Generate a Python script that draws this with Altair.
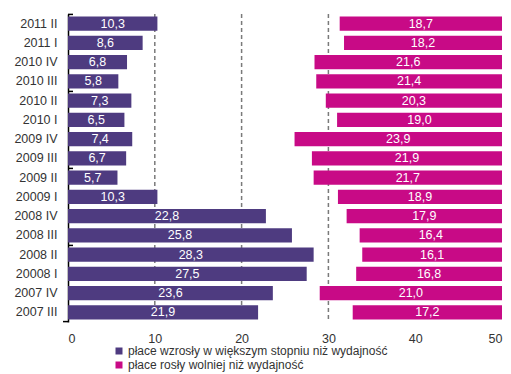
import altair as alt
import pandas as pd

periods = ["2011 II", "2011 I", "2010 IV", "2010 III", "2010 II", "2010 I",
           "2009 IV", "2009 III", "2009 II", "20009 I", "2008 IV", "2008 III",
           "2008 II", "20008 I", "2007 IV", "2007 III"]
greater = [10.3, 8.6, 6.8, 5.8, 7.3, 6.5, 7.4, 6.7, 5.7, 10.3, 22.8, 25.8,
           28.3, 27.5, 23.6, 21.9]
slower = [18.7, 18.2, 21.6, 21.4, 20.3, 19.0, 23.9, 21.9, 21.7, 18.9, 17.9,
          16.4, 16.1, 16.8, 21.0, 17.2]
series_names = ["płace wzrosły w większym stopniu niż wydajność",
                "płace rosły wolniej niż wydajność"]
colors = ["#4e3b80", "#c80a86"]
x_max = 50
grid_lines = [10, 20, 30]
group_starts = ["2011 II", "2010 II", "2009 II", "2008 II"]
group_end = ["2007 III"]

rows = []
for p, g, s in zip(periods, greater, slower):
    rows.append({"period": p, "series": series_names[0], "value": g,
                 "start": 0, "end": g})
    rows.append({"period": p, "series": series_names[1], "value": s,
                 "start": x_max - s, "end": x_max})
df = pd.DataFrame(rows)
df["label"] = df["value"].map(lambda v: f"{v:.1f}".replace(".", ","))
df["mid"] = (df["start"] + df["end"]) / 2

FONT = "Liberation Sans"
yscale = alt.Scale(domain=periods, paddingInner=0.25, paddingOuter=0.125)
xscale = alt.Scale(domain=[0, x_max], nice=False)

grid = alt.Chart(pd.DataFrame({"x": grid_lines})).mark_rule(
    color="#7a7a7a", strokeDash=[4, 3], strokeWidth=1.5
).encode(x=alt.X("x:Q", scale=xscale))

bars = alt.Chart(df).mark_bar(cornerRadius=0).encode(
    y=alt.Y("period:N", scale=yscale, sort=periods,
            axis=alt.Axis(title=None, labelFont=FONT, labelFontSize=12.5,
                          labelColor="#333333", ticks=False, domain=True,
                          domainColor="#000000", domainWidth=1.5,
                          labelPadding=11)),
    x=alt.X("start:Q", scale=xscale,
            axis=alt.Axis(title=None, values=[0, 10, 20, 30, 40, 50],
                          labelFont=FONT, labelFontSize=12.5,
                          labelColor="#333333", ticks=False, domain=False,
                          grid=False, labelPadding=10)),
    x2="end:Q",
    color=alt.Color("series:N",
                    scale=alt.Scale(domain=series_names, range=colors),
                    legend=alt.Legend(title=None, orient="none", legendX=45,
                                      legendY=331, symbolType="square",
                                      symbolSize=49, labelFont=FONT,
                                      labelFontSize=12, labelColor="#333333",
                                      rowPadding=2, symbolStrokeWidth=0,
                                      labelOffset=3, labelLimit=0)),
)

texts = alt.Chart(df).mark_text(
    color="white", font=FONT, fontSize=12.5, baseline="middle", align="center"
).encode(
    y=alt.Y("period:N", scale=yscale, sort=periods),
    x=alt.X("mid:Q", scale=xscale),
    text="label:N",
)

ticks_top = alt.Chart(pd.DataFrame({"period": group_starts})).mark_rule(
    color="#000000", strokeWidth=1.5, yOffset=-2
).encode(
    y=alt.Y("period:N", scale=yscale, sort=periods, bandPosition=0),
    x=alt.value(0), x2=alt.value(5),
)
ticks_bottom = alt.Chart(pd.DataFrame({"period": group_end})).mark_rule(
    color="#000000", strokeWidth=1.5, yOffset=2
).encode(
    y=alt.Y("period:N", scale=yscale, sort=periods, bandPosition=1),
    x=alt.value(-5), x2=alt.value(0),
)

chart = alt.layer(grid, bars, texts, ticks_top, ticks_bottom).properties(
    width=434, height=308,
    autosize=alt.AutoSizeParams(type="none"),
    padding={"left": 68, "top": 14, "right": 9, "bottom": 52},
    background="white",
).configure_view(stroke=None)

chart.save("out.html", embed_options={"renderer": "svg", "actions": False})
